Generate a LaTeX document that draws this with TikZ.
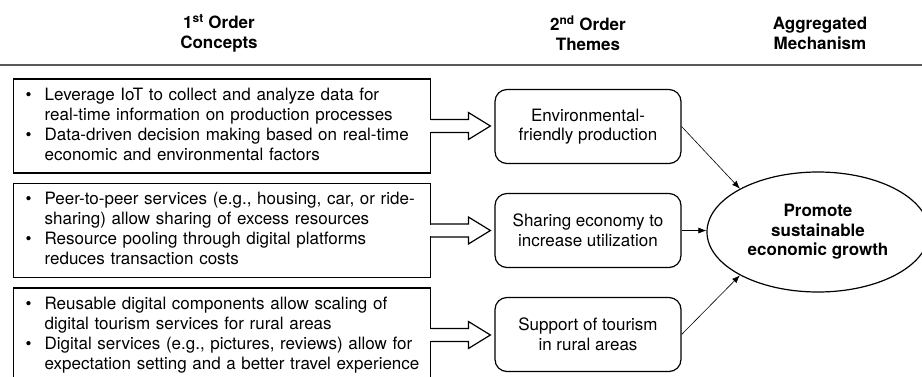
\documentclass[tikz,border=0pt]{standalone}
\usepackage{fontspec}
\setmainfont{TeX Gyre Heros}
\usetikzlibrary{calc,arrows.meta,shapes.geometric}
\newcommand{\bul}{\makebox[19pt][l]{•}}
\begin{document}
\begin{tikzpicture}[x=1pt,y=-1pt,
  font=\fontsize{17}{20}\selectfont,
  hdr/.style={align=center,inner sep=0pt,font=\fontsize{17}{20}\selectfont\bfseries},
  cbox/.style={draw,line width=1.2pt,minimum height=94pt,text width=393pt,inner xsep=12pt,inner ysep=0pt,align=left,anchor=west},
  tbox/.style={draw,line width=1.2pt,rounded corners=12pt,minimum width=186pt,minimum height=74pt,align=center,inner sep=0pt,font=\fontsize{17}{19.5}\selectfont},
  mech/.style={ellipse,draw,line width=1.2pt,minimum width=222pt,minimum height=120pt,align=center,inner sep=0pt,font=\fontsize{17}{19.5}\selectfont\bfseries},
  lnk/.style={line width=0.6pt,-{Latex[length=8pt,width=6pt]}},
  blk/.style={line width=1.2pt,line join=miter},
]
\useasboundingbox (0,0) rectangle (922,376);

% headers
\node[hdr] (h1) at (219,33) {1\textsuperscript{st} Order\\Concepts};
\node[hdr] (h2) at (588,33) {2\textsuperscript{nd} Order\\Themes};
\node[hdr] (h3) at (820,33) {Aggregated\\Mechanism};
\coordinate (rl) at (0,65);
\coordinate (rr) at (922,65);
\draw[line width=1.6pt,black!65] (rl) -- (rr);

% first order concept boxes
\node[cbox] (b1) at (13,126) {\begin{tabular}{@{}l@{}l@{}}
\bul & Leverage IoT to collect and analyze data for\\
 & real-time information on production processes\\
\bul & Data-driven decision making based on real-time\\
 & economic and environmental factors
\end{tabular}};
\node[cbox] (b2) at (13,230.5) {\begin{tabular}{@{}l@{}l@{}}
\bul & Peer-to-peer services (e.g., housing, car, or ride-\\
 & sharing) allow sharing of excess resources\\
\bul & Resource pooling through digital platforms\\
 & reduces transaction costs
\end{tabular}};
\node[cbox] (b3) at (13,335) {\begin{tabular}{@{}l@{}l@{}}
\bul & Reusable digital components allow scaling of\\
 & digital tourism services for rural areas\\
\bul & Digital services (e.g., pictures, reviews) allow for\\
 & expectation setting and a better travel experience
\end{tabular}};

% second order themes
\node[tbox] (t1) at (588,126.5) {Environmental-\\friendly production};
\node[tbox] (t2) at (588,230.5) {Sharing economy to\\increase utilization};
\node[tbox] (t3) at (588,334.5) {Support of tourism\\in rural areas};

% aggregated mechanism
\node[mech] (m) at (818,232) {Promote\\sustainable\\economic growth};

% block arrows
\foreach \b/\t in {b1/t1,b2/t2,b3/t3}{
  \fill[white] ($(\b.east)+(-2,-5.9)$) rectangle ($(\b.east)+(2,5.9)$);
  \draw[blk] ($(\b.east)+(0,-6.5)$) -- ($(\t.west |- \b.east)+(-26,-6.5)$)
     -- ($(\t.west |- \b.east)+(-26,-13.5)$) -- ($(\t.west |- \b.east)+(-4,0)$)
     -- ($(\t.west |- \b.east)+(-26,13.5)$) -- ($(\t.west |- \b.east)+(-26,6.5)$)
     -- ($(\b.east)+(0,6.5)$);
}

% links to mechanism
\draw[lnk] (t1.east) -- (m.151);
\draw[lnk] (t2.east) -- (t2.east -| m.west);
\draw[lnk] (t3.east) -- (m.209);
\end{tikzpicture}
\end{document}
